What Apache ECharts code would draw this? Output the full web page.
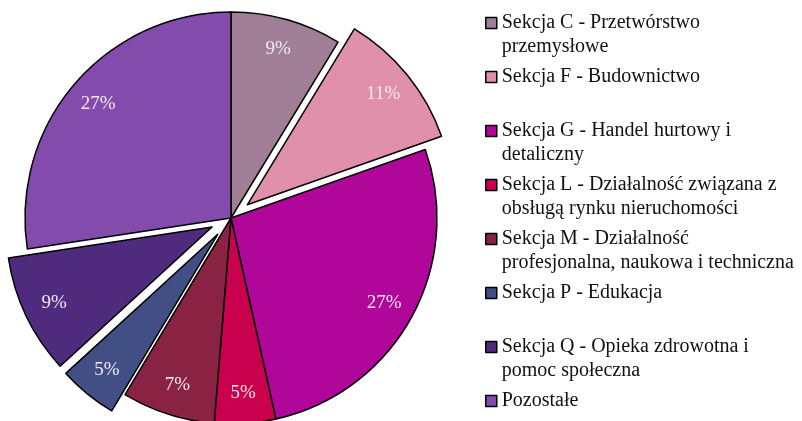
<!DOCTYPE html>
<html>
<head>
<meta charset="utf-8">
<script src="https://cdn.jsdelivr.net/npm/echarts@6/dist/echarts.min.js"></script>
<style>
  html, body { margin: 0; padding: 0; background: #ffffff; }
  #chart { width: 802px; height: 421px; }
</style>
</head>
<body>
<div id="chart"></div>
<script>
// sekcje PKD (legenda zawija tekst przez \n)
var names = [
  "Sekcja C - Przetwórstwo\nprzemysłowe",
  "Sekcja F - Budownictwo",
  "Sekcja G - Handel hurtowy i\ndetaliczny",
  "Sekcja L - Działalność związana z\nobsługą rynku nieruchomości",
  "Sekcja M - Działalność\nprofesjonalna, naukowa i techniczna",
  "Sekcja P - Edukacja",
  "Sekcja Q - Opieka zdrowotna i\npomoc społeczna",
  "Pozostałe"
];
// udział w %
var values = [8.7, 10.9, 26.9, 4.8, 7.3, 4.6, 9.4, 27.4];
// wysunięte kawałki
var exploded = [false, true, false, false, false, true, true, false];
var colors = ["#a07f96", "#e090ab", "#b0069a", "#c9004e", "#8a2244", "#424f85", "#4f2b7d", "#824bac"];

var font = "'Liberation Serif', 'Times New Roman', serif";

var pieData = names.map(function (n, i) {
  return { name: n, value: values[i], selected: exploded[i], itemStyle: { color: colors[i] } };
});
var labelData = names.map(function (n, i) {
  return { name: n, value: values[i], selected: exploded[i] };
});

var chart = echarts.init(document.getElementById("chart"));
var option = {
  animation: false,
  legend: {
    orient: "vertical",
    left: 485,
    top: -13,
    height: 600,
    padding: 0,
    itemGap: -18,
    itemWidth: 11,
    itemHeight: 11,
    icon: "rect",
    selectedMode: false,
    data: names,
    itemStyle: { borderColor: "#000", borderWidth: 1.5 },
    // pusta linia na górze, żeby znacznik stał przy pierwszym wierszu
    formatter: function (name) {
      var t = name.indexOf("\n") < 0 ? name + "\n " : name;
      return " \n" + t;
    },
    textStyle: {
      fontFamily: font,
      fontSize: 20,
      lineHeight: 24,
      color: "#111111"
    }
  },
  series: [
    {
      type: "pie",
      center: [231, 218],
      radius: [0, 206],
      startAngle: 90,
      clockwise: true,
      selectedMode: "multiple",
      selectedOffset: 21,
      label: { show: false },
      labelLine: { show: false },
      itemStyle: { borderColor: "#000", borderWidth: 1.5 },
      select: { itemStyle: { borderColor: "#000", borderWidth: 1.5 } },
      emphasis: { disabled: true },
      data: pieData
    },
    {
      // tylko etykiety procentowe
      type: "pie",
      center: [231, 218],
      radius: [138, 206],
      startAngle: 90,
      clockwise: true,
      silent: true,
      selectedMode: "multiple",
      selectedOffset: 21,
      itemStyle: { color: "rgba(0,0,0,0)", borderWidth: 0 },
      select: { itemStyle: { color: "rgba(0,0,0,0)", borderWidth: 0 } },
      emphasis: { disabled: true },
      labelLine: { show: false },
      label: {
        show: true,
        position: "inside",
        fontFamily: font,
        fontSize: 19,
        color: "#f3e6f3",
        formatter: function (p) { return Math.round(p.percent) + "%"; }
      },
      data: labelData
    }
  ]
};
chart.setOption(option);
</script>
</body>
</html>
